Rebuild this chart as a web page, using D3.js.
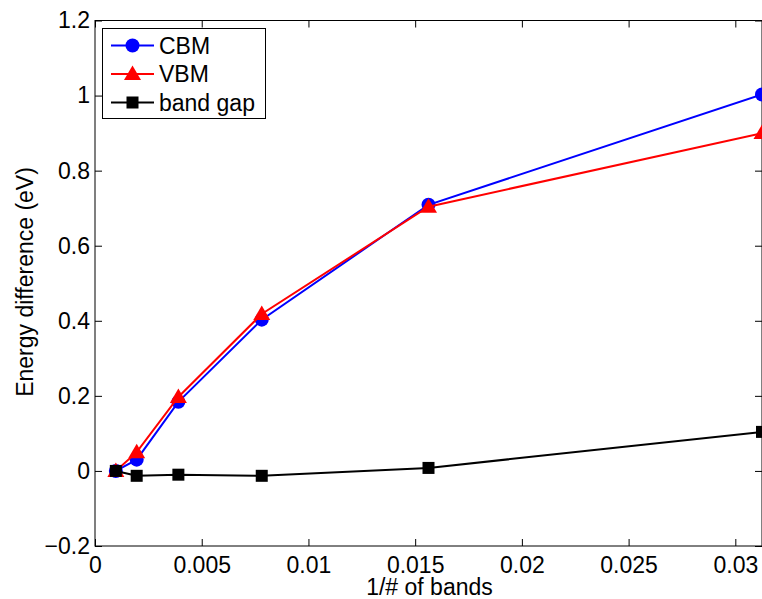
<!DOCTYPE html>
<html>
<head>
<meta charset="utf-8">
<script src="https://cdn.jsdelivr.net/npm/d3@7"></script>
<style>
body { margin: 0; background: #fff; }
svg { font-family: "Liberation Sans", Arial, sans-serif; }
</style>
</head>
<body>
<svg width="762" height="599"></svg>
<script>
var xs = [1 / 1024, 1 / 512, 1 / 256, 1 / 128, 1 / 64, 1 / 32];
var cbm = [0.0, 0.03, 0.184, 0.403, 0.709, 1.003];
var vbm = [0.0, 0.05, 0.197, 0.418, 0.704, 0.90];
var gap = [0.0, -0.013, -0.01, -0.013, 0.008, 0.104];
var xTicks = [0, 0.005, 0.01, 0.015, 0.02, 0.025, 0.03];
var yTicks = [-0.2, 0, 0.2, 0.4, 0.6, 0.8, 1, 1.2];

var series = [
    {name: "CBM", values: cbm, color: "#0000ff", marker: "circle"},
    {name: "VBM", values: vbm, color: "#ff0000", marker: "triangle"},
    {name: "band gap", values: gap, color: "#000000", marker: "square"}
];

var svg = d3.select("svg"),
    pLeft = 95, pRight = 762, pTop = 20.5, pBottom = 546,
    fontSize = 23;

var x = d3.scaleLinear().domain([0, 1 / 32]).range([pLeft, pRight]);
var y = d3.scaleLinear().domain([-0.2, 1.2]).range([pBottom, pTop]);

function fmt(d) {
    if (d === 0) return "0";
    return String(+d.toFixed(3)).replace("-", "\u2212");
}

// frame
svg.append("rect")
    .attr("x", pLeft).attr("y", pTop)
    .attr("width", pRight - pLeft).attr("height", pBottom - pTop)
    .attr("fill", "none").attr("stroke", "#000").attr("stroke-width", 1);

var ax = svg.append("g").attr("transform", "translate(0," + pBottom + ")")
    .call(d3.axisBottom(x).tickValues(xTicks).tickSize(-7).tickPadding(11).tickFormat(fmt));
var axTop = svg.append("g").attr("transform", "translate(0," + pTop + ")")
    .call(d3.axisTop(x).tickValues(xTicks).tickSize(-7).tickFormat(""));
var ay = svg.append("g").attr("transform", "translate(" + pLeft + ",0)")
    .call(d3.axisLeft(y).tickValues(yTicks).tickSize(-7).tickPadding(5).tickFormat(fmt));
var ayR = svg.append("g").attr("transform", "translate(" + pRight + ",0)")
    .call(d3.axisRight(y).tickValues(yTicks).tickSize(-7).tickFormat(""));

[ax, axTop, ay, ayR].forEach(function (g) {
    g.select(".domain").remove();
    g.selectAll(".tick line").attr("stroke", "#000");
    g.selectAll("text").attr("fill", "#000").attr("font-size", fontSize)
        .attr("font-family", "'Liberation Sans', Arial, sans-serif");
});

svg.append("text")
    .attr("x", 429.5).attr("y", 595)
    .attr("text-anchor", "middle").attr("font-size", fontSize)
    .text("1/# of bands");

svg.append("text")
    .attr("transform", "translate(33,282) rotate(-90)")
    .attr("text-anchor", "middle").attr("font-size", fontSize)
    .text("Energy difference (eV)");

function drawMarker(g, type, color, cx, cy) {
    if (type === "circle") {
        g.append("circle").attr("cx", cx).attr("cy", cy).attr("r", 7).attr("fill", color);
    } else if (type === "triangle") {
        g.append("path")
            .attr("d", "M" + cx + "," + (cy - 8.5) + "L" + (cx + 8.5) + "," + (cy + 6) + "L" + (cx - 8.5) + "," + (cy + 6) + "Z")
            .attr("fill", color);
    } else {
        g.append("rect").attr("x", cx - 6).attr("y", cy - 6).attr("width", 12).attr("height", 12).attr("fill", color);
    }
}

var line = d3.line()
    .x(function (d, i) { return x(xs[i]); })
    .y(function (d) { return y(d); });

var plot = svg.append("g");
series.forEach(function (s) {
    var g = plot.append("g");
    g.append("path").datum(s.values)
        .attr("d", line).attr("fill", "none")
        .attr("stroke", s.color).attr("stroke-width", 2);
    s.values.forEach(function (v, i) {
        drawMarker(g, s.marker, s.color, x(xs[i]), y(v));
    });
});

// legend
var lg = svg.append("g");
lg.append("rect")
    .attr("x", 102.5).attr("y", 28.5).attr("width", 163).attr("height", 90)
    .attr("fill", "#fff").attr("stroke", "#000").attr("stroke-width", 1);
series.forEach(function (s, i) {
    var yy = 45.5 + i * 28.5;
    lg.append("line").attr("x1", 111).attr("x2", 154).attr("y1", yy).attr("y2", yy)
        .attr("stroke", s.color).attr("stroke-width", 2);
    drawMarker(lg, s.marker, s.color, 132.5, yy);
    lg.append("text").attr("x", 159).attr("y", yy).attr("dy", "0.36em")
        .attr("font-size", fontSize).text(s.name);
});
</script>
</body>
</html>
